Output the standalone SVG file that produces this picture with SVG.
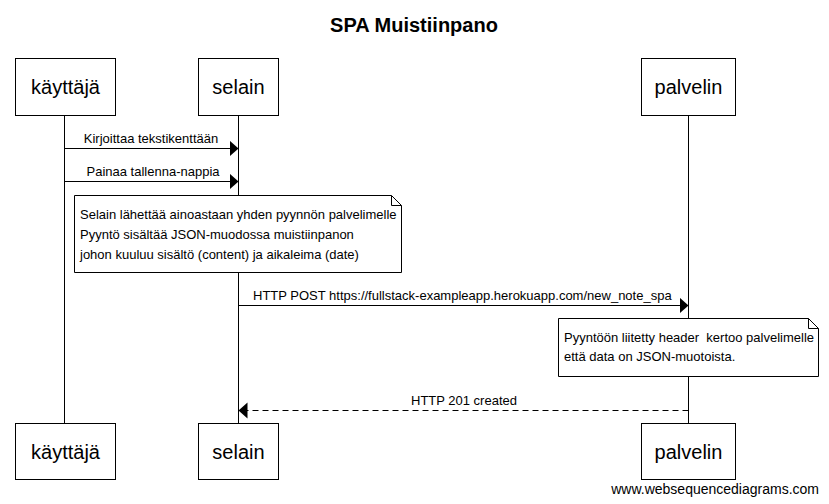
<svg xmlns="http://www.w3.org/2000/svg" width="829" height="504" viewBox="0 0 829 504">
<style>
text{font-family:"Liberation Sans",Arial,sans-serif;fill:#000}
.box{fill:#fff;stroke:#000;stroke-width:1}
.pl{font-size:20px;text-anchor:middle}
.life{stroke:#000;stroke-width:1}
.msg{stroke:#000;stroke-width:1;fill:none}
.dash{stroke-dasharray:6,4}
.lbl{font-size:13px;white-space:pre}
.note{fill:#fff;stroke:#000;stroke-width:1}
</style>
<defs>
<marker id="ah" markerWidth="10" markerHeight="18" refX="9" refY="8" orient="auto" markerUnits="userSpaceOnUse">
<path d="M0,0 L9,8 L0,16 Z" fill="#000"/>
</marker>
</defs>
<rect width="829" height="504" fill="#fff"/>
<text x="414" y="32" font-size="20" font-weight="bold" text-anchor="middle">SPA Muistiinpano</text>
<g id="lifelines">
<line class="life" x1="64.5" y1="116" x2="64.5" y2="423"/>
<line class="life" x1="238.5" y1="116" x2="238.5" y2="423"/>
<line class="life" x1="688.5" y1="116" x2="688.5" y2="423"/>
</g>
<g id="kayttaja">
<rect class="box" x="15.5" y="58.5" width="100" height="57"/>
<text class="pl" x="65.5" y="94">käyttäjä</text>
<rect class="box" x="15.5" y="423.5" width="100" height="56"/>
<text class="pl" x="65.5" y="459">käyttäjä</text>
</g>
<g id="selain">
<rect class="box" x="198.5" y="58.5" width="80" height="57"/>
<text class="pl" x="238.5" y="94">selain</text>
<rect class="box" x="198.5" y="423.5" width="80" height="56"/>
<text class="pl" x="238.5" y="459">selain</text>
</g>
<g id="palvelin">
<rect class="box" x="641.5" y="58.5" width="94" height="57"/>
<text class="pl" x="688.5" y="94">palvelin</text>
<rect class="box" x="641.5" y="423.5" width="94" height="56"/>
<text class="pl" x="688.5" y="459">palvelin</text>
</g>
<g id="connectors">
<line class="msg" x1="64.5" y1="148.5" x2="238.5" y2="148.5" marker-end="url(#ah)"/>
<text class="lbl" x="151" y="143" text-anchor="middle">Kirjoittaa tekstikenttään</text>
<line class="msg" x1="64.5" y1="181.5" x2="238.5" y2="181.5" marker-end="url(#ah)"/>
<text class="lbl" x="153" y="176" text-anchor="middle">Painaa tallenna-nappia</text>
<line class="msg" x1="238.5" y1="305.5" x2="688.5" y2="305.5" marker-end="url(#ah)"/>
<text class="lbl" x="253" y="300">HTTP POST https://fullstack-exampleapp.herokuapp.com/new_note_spa</text>
<line class="msg dash" x1="688.5" y1="410.5" x2="238.5" y2="410.5" marker-end="url(#ah)"/>
<text class="lbl" x="464" y="405" text-anchor="middle">HTTP 201 created</text>
</g>
<g id="note1">
<path class="note" d="M74.5,195.5 H391.5 L401.5,205.5 V272.5 H74.5 Z"/>
<path class="msg" d="M391.5,195.5 V205.5 H401.5"/>
<text class="lbl" x="80" y="219">Selain lähettää ainoastaan yhden pyynnön palvelimelle</text>
<text class="lbl" x="80" y="239">Pyyntö sisältää JSON-muodossa muistiinpanon</text>
<text class="lbl" x="80" y="259">johon kuuluu sisältö (content) ja aikaleima (date)</text>
</g>
<g id="note2">
<path class="note" d="M558.5,318.5 H808.5 L818.5,328.5 V376.5 H558.5 Z"/>
<path class="msg" d="M808.5,318.5 V328.5 H818.5"/>
<text class="lbl" x="564" y="342">Pyyntöön liitetty header  kertoo palvelimelle</text>
<text class="lbl" x="564" y="361">että data on JSON-muotoista.</text>
</g>
<text x="819" y="494" font-size="14" text-anchor="end">www.websequencediagrams.com</text>
</svg>
